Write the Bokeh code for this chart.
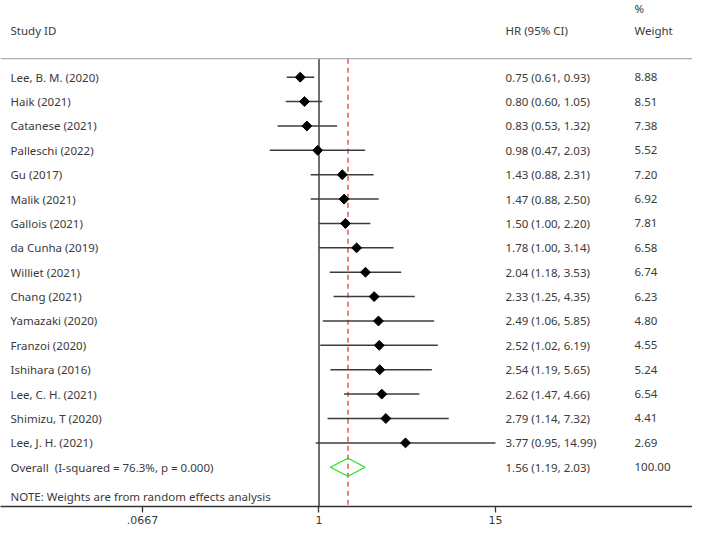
import math
from bokeh.plotting import figure
from bokeh.models import (ColumnDataSource, LabelSet, Label, Span, Range1d,
                          FixedTicker, LogAxis, LogScale)
from bokeh.core.properties import value
from bokeh.embed import file_html
from bokeh.resources import INLINE

# ---------------- data ----------------
studies = ["Lee, B. M. (2020)", "Haik (2021)", "Catanese (2021)", "Palleschi (2022)",
           "Gu (2017)", "Malik (2021)", "Gallois (2021)", "da Cunha (2019)",
           "Williet (2021)", "Chang (2021)", "Yamazaki (2020)", "Franzoi (2020)",
           "Ishihara (2016)", "Lee, C. H. (2021)", "Shimizu, T (2020)", "Lee, J. H. (2021)"]
hr = [0.75, 0.80, 0.83, 0.98, 1.43, 1.47, 1.50, 1.78, 2.04, 2.33, 2.49, 2.52, 2.54, 2.62, 2.79, 3.77]
ci_low = [0.61, 0.60, 0.53, 0.47, 0.88, 0.88, 1.00, 1.00, 1.18, 1.25, 1.06, 1.02, 1.19, 1.47, 1.14, 0.95]
ci_high = [0.93, 1.05, 1.32, 2.03, 2.31, 2.50, 2.20, 3.14, 3.53, 4.35, 5.85, 6.19, 5.65, 4.66, 7.32, 14.99]
weights = [8.88, 8.51, 7.38, 5.52, 7.20, 6.92, 7.81, 6.58, 6.74, 6.23, 4.80, 4.55, 5.24, 6.54, 4.41, 2.69]

overall_label = "Overall\u00a0\u00a0(I-squared = 76.3%, p = 0.000)"
overall_hr = 1.56
overall_low = 1.19
overall_high = 2.03
overall_weight = 100.00
note_text = "NOTE: Weights are from random effects analysis"

tick_values = [0.0667, 1, 15]
tick_labels = [".0667", "1", "15"]

# ---------------- layout ----------------
FONT = "Noto Sans"
FS = "11.5px"
TXT = "#3a3a3a"

n = len(studies)
rows = list(range(n))
overall_row = n
note_row = 17.2
header_row = -1.92
pct_row = -2.82
sep_row = -0.76
top_row = -3.147
bottom_row = 17.61

p = figure(width=692, height=526, x_axis_type=None, y_axis_location=None,
           output_backend="svg", toolbar_location=None,
           x_range=Range1d(0.00755, 308.0), y_range=Range1d(bottom_row, top_row),
           min_border_left=0, min_border_right=0, min_border_top=0, min_border_bottom=0)
p.x_scale = LogScale()
p.grid.visible = False
p.outline_line_color = None
p.background_fill_color = "white"
p.border_fill_color = "white"

axis = LogAxis(ticker=FixedTicker(ticks=tick_values))
axis.major_label_overrides = {v: lab for v, lab in zip(tick_values, tick_labels)}
axis.axis_line_color = "#333333"
axis.axis_line_width = 1.3
axis.major_tick_line_color = "#333333"
axis.major_tick_line_width = 1.3
axis.major_tick_out = 6
axis.major_tick_in = 0
axis.minor_tick_line_color = None
axis.major_label_standoff = 3
axis.major_label_text_font = "DejaVu Sans"
axis.major_label_text_font_size = "11px"
axis.major_label_text_color = TXT
p.add_layout(axis, "below")

# separator line under header
p.add_layout(Span(location=sep_row, dimension="width", line_color="#b0b0b0", line_width=1.2))

# null line at 1 and overall dashed line
p.segment(x0=[1], y0=[sep_row], x1=[1], y1=[bottom_row], line_color="#222222", line_width=1.3)
p.segment(x0=[overall_hr], y0=[sep_row], x1=[overall_hr], y1=[bottom_row],
          line_color="#e8262a", line_width=1.2, line_dash="5 4")

src = ColumnDataSource(dict(
    y=rows, hr=hr, lo=ci_low, hi=ci_high, study=studies,
    hrtxt=[f"{h:.2f} ({l:.2f}, {u:.2f})" for h, l, u in zip(hr, ci_low, ci_high)],
    wtxt=[f"{w:.2f}" for w in weights],
))
p.segment(x0="lo", y0="y", x1="hi", y1="y", source=src, line_color="#3c3c3c", line_width=1.5)
p.scatter(x="hr", y="y", source=src, marker="square", angle=math.pi / 4, size=7,
          fill_color="black", line_color="black")

# overall diamond
dh = 0.37
p.patch(x=[overall_low, overall_hr, overall_high, overall_hr, overall_low],
        y=[overall_row, overall_row - dh, overall_row, overall_row + dh, overall_row],
        fill_color=None, line_color="#22e022", line_width=1.2)

# text columns
def labels(col, xs):
    return LabelSet(x=xs, y="y", x_units="screen", text=col, source=src,
                    text_font=value(FONT), text_font_size=value(FS), text_color=TXT,
                    text_baseline="middle", text_align="left")

p.add_layout(labels("study", 10))
p.add_layout(labels("hrtxt", 505))
p.add_layout(labels("wtxt", 634))

def lab(text, xs, y):
    p.add_layout(Label(x=xs, y=y, x_units="screen", text=text, text_font=FONT,
                       text_font_size=FS, text_color=TXT, text_baseline="middle"))

lab("Study ID", 10, header_row)
lab("HR (95% CI)", 505, header_row)
lab("Weight", 634, header_row)
lab("%", 634, pct_row)
lab(overall_label, 10, overall_row)
lab(f"{overall_hr:.2f} ({overall_low:.2f}, {overall_high:.2f})", 505, overall_row)
lab(f"{overall_weight:.2f}", 634, overall_row)
lab(note_text, 10, note_row)

open("out.html", "w").write(file_html(p, INLINE))
